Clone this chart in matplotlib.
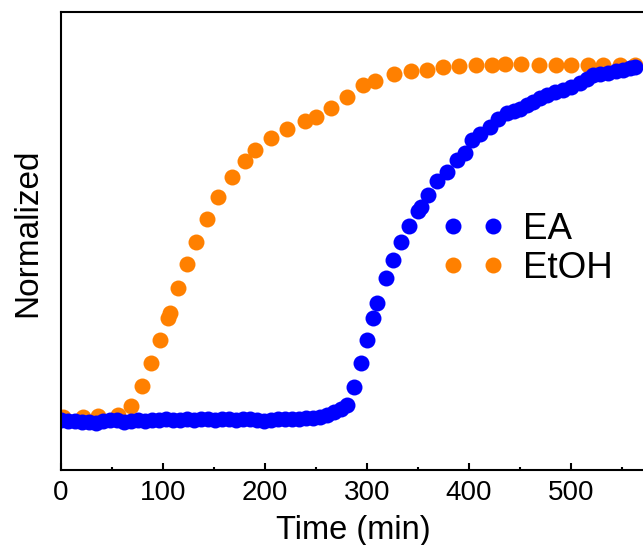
import matplotlib
matplotlib.use("Agg")
import matplotlib.pyplot as plt
from matplotlib.ticker import MultipleLocator

plt.rcParams['font.family'] = ['Liberation Sans', 'DejaVu Sans']

# EA signal (normalized), time in minutes
ea_time = [0, 7, 14, 21, 27, 34, 41, 48, 55, 62, 69, 75, 82, 89, 96, 103, 110,
           117, 124, 130, 137, 144, 151, 158, 165, 172, 178, 185, 192, 199, 206,
           213, 220, 226, 233, 240, 247, 254, 261, 268, 274, 280, 287, 294, 300,
           306, 310, 319, 325, 333, 341, 350, 353, 360, 369, 378, 388, 396, 403,
           411, 421, 428, 437, 444, 450, 457, 463, 470, 476, 484, 492, 500, 509,
           516, 522, 528, 536, 544, 551, 558, 563]
ea_norm = [0.000, -0.003, -0.003, -0.006, -0.006, -0.008, -0.003, 0.000, 0.000,
           -0.006, -0.003, 0.000, -0.003, 0.000, 0.000, 0.003, 0.000, 0.000,
           0.003, 0.000, 0.003, 0.003, 0.000, 0.003, 0.003, 0.000, 0.003, 0.003,
           0.000, -0.003, 0.000, 0.003, 0.003, 0.003, 0.003, 0.006, 0.006, 0.008,
           0.014, 0.023, 0.031, 0.042, 0.093, 0.161, 0.225, 0.287, 0.330, 0.400,
           0.451, 0.501, 0.546, 0.589, 0.600, 0.634, 0.673, 0.699, 0.732, 0.752,
           0.789, 0.806, 0.825, 0.848, 0.865, 0.870, 0.876, 0.887, 0.896, 0.907,
           0.915, 0.924, 0.930, 0.938, 0.949, 0.961, 0.972, 0.975, 0.977, 0.983,
           0.986, 0.992, 0.994]

# EtOH signal (normalized)
etoh_time = [2, 22, 36, 56, 69, 79, 88, 97, 105, 107, 115, 124, 132, 143, 154,
             168, 180, 190, 206, 222, 239, 250, 265, 280, 296, 308, 326, 343,
             359, 374, 390, 407, 423, 435, 451, 469, 485, 500, 517, 531, 548, 563]
etoh_norm = [0.008, 0.008, 0.011, 0.014, 0.039, 0.096, 0.161, 0.225, 0.287,
             0.301, 0.372, 0.439, 0.501, 0.566, 0.628, 0.685, 0.730, 0.761,
             0.794, 0.820, 0.842, 0.854, 0.879, 0.910, 0.944, 0.955, 0.975,
             0.983, 0.986, 0.994, 0.997, 1.000, 1.000, 1.003, 1.003, 1.000,
             1.000, 1.000, 1.000, 1.000, 1.000, 1.000]

xticks = [0, 100, 200, 300, 400, 500]

fig = plt.figure(figsize=(6.43, 5.45), dpi=100)
ax = fig.add_axes([61 / 643, 75 / 545, 584 / 643, 458 / 545])

ms = 11.5
l_etoh, = ax.plot(etoh_time, etoh_norm, 'o', color='#ff8000', ms=ms, mew=0, label='EtOH')
l_ea, = ax.plot(ea_time, ea_norm, 'o', color='#0000ff', ms=ms, mew=0, label='EA')

ax.set_xlim(0, 572.5)
ax.set_ylim(-0.1408, 1.1493)
ax.set_xticks(xticks)
ax.xaxis.set_minor_locator(MultipleLocator(50))
ax.set_yticks([])
ax.tick_params(axis='x', which='major', direction='in', length=5, width=1.5,
               labelsize=20, pad=7)
ax.tick_params(axis='x', which='minor', direction='in', length=2.5, width=1.5)
for sp in ax.spines.values():
    sp.set_linewidth(1.5)

ax.set_xlabel('Time (min)', fontsize=23.5, labelpad=7)
ax.set_ylabel('Normalized', fontsize=24)
ax.yaxis.set_label_coords(-0.031, 0.517)

ax.legend([l_ea, l_etoh], ['EA', 'EtOH'], numpoints=2, frameon=False,
          fontsize=26.5, handlelength=1.69, handletextpad=0.5, borderpad=0,
          labelspacing=0.1, loc='center left', bbox_to_anchor=(0.621, 0.483))

plt.savefig('out.png', dpi=100)
